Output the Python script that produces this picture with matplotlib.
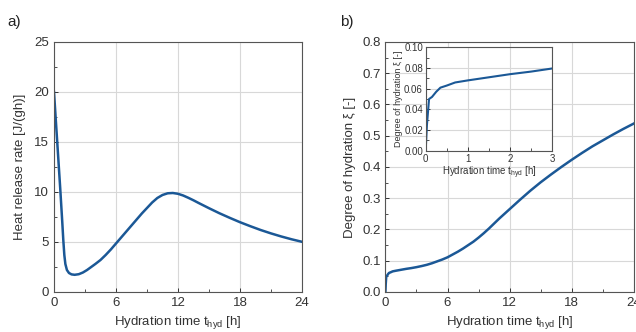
import matplotlib
matplotlib.use("Agg")
import matplotlib.pyplot as plt
from matplotlib.ticker import MultipleLocator, FormatStrFormatter

plt.rcParams['font.family'] = ['Liberation Sans', 'DejaVu Sans']
plt.rcParams['mathtext.fontset'] = 'custom'
plt.rcParams['mathtext.rm'] = 'Liberation Sans'
plt.rcParams['mathtext.it'] = 'Liberation Sans:italic'

# Heat release rate (panel a)
t_heat = [0, 0.3, 0.6, 0.8, 0.9, 1.0, 1.1, 1.25, 1.45, 1.7, 2.0, 2.4, 2.8, 3.2, 3.6,
          4.0, 4.5, 5.0, 5.5, 6.0, 6.5, 7.0, 7.5, 8.0, 8.5, 9.0, 9.5, 10.0, 10.5,
          11.0, 11.5, 12.0, 12.5, 13.0, 13.5, 14.0, 15.0, 16.0, 17.0, 18.0, 19.0,
          20.0, 21.0, 22.0, 23.0, 24.0]
q_heat = [20.0, 15.2, 10.4, 7.0, 5.2, 3.7, 2.8, 2.2, 1.9, 1.76, 1.72, 1.78, 1.95, 2.2, 2.5,
          2.8, 3.2, 3.7, 4.25, 4.85, 5.45, 6.05, 6.65, 7.25, 7.85, 8.4, 8.95, 9.4, 9.7,
          9.87, 9.9, 9.82, 9.65, 9.42, 9.17, 8.9, 8.38, 7.88, 7.42, 6.98, 6.58,
          6.2, 5.86, 5.55, 5.27, 5.02]

# Degree of hydration (panel b and inset)
t_xi = [0, 0.03, 0.08, 0.15, 0.25, 0.35, 0.5, 0.7, 1.0, 1.5, 2.0, 2.5, 3.0, 3.5, 4.0,
        4.5, 5.0, 5.5, 6.0, 6.5, 7.0, 7.5, 8.0, 8.5, 9.0, 9.5, 10.0, 10.5, 11.0, 11.5,
        12.0, 13.0, 14.0, 15.0, 16.0, 17.0, 18.0, 19.0, 20.0, 21.0, 22.0, 23.0, 24.0]
xi = [0.0, 0.025, 0.05, 0.052, 0.057, 0.061, 0.063, 0.066, 0.068, 0.071, 0.074, 0.0765,
      0.0795, 0.083, 0.087, 0.092, 0.098, 0.104, 0.111, 0.12, 0.129, 0.139, 0.15, 0.161,
      0.174, 0.188, 0.203, 0.219, 0.235, 0.25, 0.265, 0.295, 0.324, 0.351, 0.376,
      0.4, 0.423, 0.445, 0.466, 0.485, 0.504, 0.522, 0.539]

x_ticks = [0, 6, 12, 18, 24]
inset_x_ticks = [0, 1, 2, 3]

line_color = '#1b5896'
frame_color = '#555555'
grid_color = '#d8d8d8'
xlabel = 'Hydration time t$_{\\mathrm{hyd}}$ [h]'

fig = plt.figure(figsize=(6.36, 3.32), dpi=100)


def style(ax, fs=9.5):
    for s in ax.spines.values():
        s.set_color(frame_color)
        s.set_linewidth(0.8)
    ax.tick_params(which='both', direction='in', colors='#333333', labelsize=fs,
                   top=False, right=False)
    ax.tick_params(which='major', length=3, width=0.7)
    ax.tick_params(which='minor', length=2, width=0.6)
    ax.grid(True, which='major', color=grid_color, lw=0.8)
    ax.set_axisbelow(True)


axA = fig.add_axes([0.0849, 0.1205, 0.3899, 0.753])
axA.plot(t_heat, q_heat, color=line_color, lw=1.8, solid_joinstyle='round')
axA.set_xlim(0, 24)
axA.set_ylim(0, 25)
axA.set_xticks(x_ticks)
axA.xaxis.set_minor_locator(MultipleLocator(3))
axA.yaxis.set_major_locator(MultipleLocator(5))
axA.yaxis.set_minor_locator(MultipleLocator(2.5))
style(axA)
axA.set_xlabel(xlabel, fontsize=9.5, color='#333333')
axA.set_ylabel('Heat release rate [J/(gh)]', fontsize=9.5, color='#333333', labelpad=6)

axB = fig.add_axes([0.606, 0.1205, 0.3905, 0.753])
axB.plot(t_xi, xi, color=line_color, lw=1.8, solid_joinstyle='round')
axB.set_xlim(0, 24)
axB.set_ylim(0, 0.8)
axB.set_xticks(x_ticks)
axB.xaxis.set_minor_locator(MultipleLocator(3))
axB.yaxis.set_major_locator(MultipleLocator(0.1))
axB.yaxis.set_minor_locator(MultipleLocator(0.05))
axB.yaxis.set_major_formatter(FormatStrFormatter('%.1f'))
style(axB)
axB.set_xlabel(xlabel, fontsize=9.5, color='#333333')
axB.set_ylabel('Degree of hydration ξ [-]', fontsize=9.5, color='#333333', labelpad=4)

axI = fig.add_axes([0.6693, 0.546, 0.1986, 0.3115])
axI.set_facecolor('white')
axI.plot(t_xi, xi, color=line_color, lw=1.5, solid_joinstyle='round')
axI.set_xlim(0, 3)
axI.set_ylim(0, 0.1)
axI.set_xticks(inset_x_ticks)
axI.xaxis.set_minor_locator(MultipleLocator(0.5))
axI.yaxis.set_major_locator(MultipleLocator(0.02))
axI.yaxis.set_minor_locator(MultipleLocator(0.01))
axI.yaxis.set_major_formatter(FormatStrFormatter('%.2f'))
style(axI, fs=7)
axI.tick_params(which='major', pad=2)
axI.set_xlabel(xlabel, fontsize=7, color='#333333', labelpad=1)
axI.set_ylabel('Degree of hydration ξ [-]', fontsize=6.5, color='#333333', labelpad=1)

fig.text(0.012, 0.935, 'a)', fontsize=11, color='#222222', va='center')
fig.text(0.535, 0.935, 'b)', fontsize=11, color='#222222', va='center')

fig.savefig('out.png', dpi=100)
